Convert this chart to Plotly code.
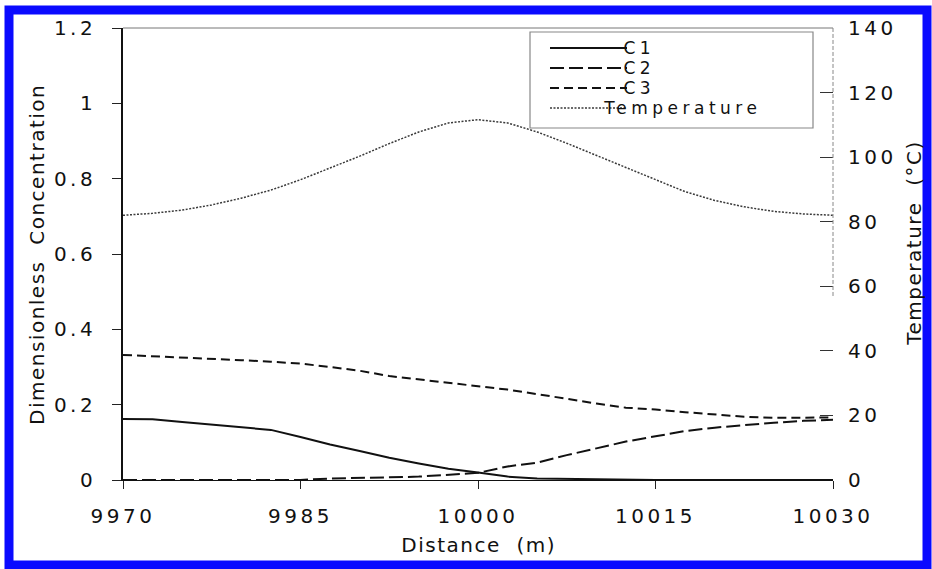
import plotly.graph_objects as go

# Profiles along the flow path
distance_m = [9970, 9972.5, 9975, 9977.5, 9980, 9982.5, 9985, 9987.5, 9990,
              9992.5, 9995, 9997.5, 10000, 10002.5, 10005, 10007.5, 10010,
              10012.5, 10015, 10017.5, 10020, 10022.5, 10025, 10027.5, 10030]

c1 = [0.162, 0.161, 0.154, 0.147, 0.141, 0.133, 0.114, 0.094, 0.077, 0.059,
      0.044, 0.030, 0.020, 0.009, 0.004, 0.003, 0.001, 0.0, 0.0, 0.0,
      0.0, 0.0, 0.0, 0.0, 0.0]
c2 = [0.0, 0.0, 0.0, 0.0, 0.0, 0.0, 0.0, 0.004, 0.005, 0.007,
      0.009, 0.013, 0.019, 0.036, 0.046, 0.066, 0.085, 0.102, 0.116, 0.130,
      0.139, 0.146, 0.152, 0.157, 0.160]
c3 = [0.332, 0.329, 0.325, 0.322, 0.318, 0.314, 0.309, 0.300, 0.290, 0.276,
      0.267, 0.258, 0.248, 0.240, 0.228, 0.215, 0.203, 0.192, 0.187, 0.180,
      0.174, 0.168, 0.165, 0.165, 0.166]
temperature_c = [82.0, 82.6, 83.6, 85.2, 87.3, 89.8, 93.0, 96.6, 100.3, 104.2,
                 107.8, 110.6, 111.6, 110.6, 107.8, 104.3, 100.5, 96.8, 93.0, 89.3,
                 86.6, 84.6, 83.2, 82.4, 82.0]

x_ticks = [9970, 9985, 10000, 10015, 10030]
conc_ticks = [0, 0.2, 0.4, 0.6, 0.8, 1.0, 1.2]
temp_ticks = [0, 20, 40, 60, 80, 100, 120, 140]

series_names = ["C1", "C2", "C3", "Temperature"]
series_dash = ["solid", "14px,5px", "9px,5px", "2px,1.5px"]
series_color = ["#111111", "#111111", "#111111", "#3a3a3a"]
series_width = [2, 2, 2, 1.5]

FONT = "DejaVu Sans"
W, H = 932, 569
ML, MR, MT, MB = 123, 99, 28, 89
PW, PH = W - ML - MR, H - MT - MB


def px_x(px):
    return (px - ML) / PW


def px_y(py):
    return (MT + PH - py) / PH


fig = go.Figure()
for name, vals, dash, col, wd, axis in zip(
        series_names, [c1, c2, c3, temperature_c], series_dash,
        series_color, series_width, ["y", "y", "y", "y2"]):
    fig.add_trace(go.Scatter(x=distance_m, y=vals, mode="lines", name=name,
                             yaxis=axis, showlegend=False,
                             line=dict(color=col, width=wd, dash=dash)))

tickfont = dict(family=FONT, size=20, color="#111111")

fig.update_layout(
    width=W, height=H, autosize=False,
    margin=dict(l=ML, r=MR, t=MT, b=MB),
    paper_bgcolor="white", plot_bgcolor="white",
    xaxis=dict(range=[9970, 10030], tickvals=x_ticks, tickformat="d",
               ticks="outside", ticklen=8,
               tickwidth=1, tickcolor="#222", showline=True, linecolor="#111",
               linewidth=1.2, showgrid=False, zeroline=False, tickfont=tickfont,
               ticklabelstandoff=10),
    xaxis3=dict(range=[9970, 10030], tickvals=x_ticks, overlaying="x", anchor="y",
                side="bottom", ticks="inside", ticklen=5, tickcolor="#222",
                showticklabels=False, showline=False, showgrid=False, zeroline=False),
    yaxis=dict(range=[0, 1.2], tickvals=conc_ticks, ticks="outside", ticklen=9,
               tickcolor="#222", showline=True, linecolor="#111", linewidth=1.6,
               showgrid=False, zeroline=False, tickfont=tickfont,
               ticklabelstandoff=12),
    yaxis3=dict(range=[0, 1.2], tickvals=conc_ticks, overlaying="y", anchor="x",
                side="left", ticks="inside", ticklen=8, tickcolor="#222",
                showticklabels=False, showline=False, showgrid=False, zeroline=False),
    yaxis2=dict(range=[0, 140], tickvals=temp_ticks, overlaying="y", anchor="x",
                side="right", ticks="inside", ticklen=13, tickcolor="#333",
                showline=False, showgrid=False, zeroline=False, tickfont=tickfont,
                ticklabelstandoff=14),
)

shapes = []
# blue frame around the figure
shapes.append(dict(type="rect", xref="paper", yref="paper",
                   x0=px_x(9), x1=px_x(927), y0=px_y(565), y1=px_y(10),
                   line=dict(color="#0a0aff", width=9), layer="below"))
# top border of the plot area
shapes.append(dict(type="line", xref="x domain", yref="y domain", x0=0, x1=1, y0=1, y1=1,
                   line=dict(color="#777777", width=1)))
# right border, drawn along the temperature axis
shapes.append(dict(type="line", xref="x domain", yref="y2", x0=1, x1=1, y0=57, y1=140,
                   line=dict(color="#888888", width=1, dash="4px,2px")))
# key box
shapes.append(dict(type="rect", xref="paper", yref="paper",
                   x0=px_x(530), x1=px_x(813), y0=px_y(128), y1=px_y(32),
                   line=dict(color="#888888", width=1.2), fillcolor="white"))

title_font = dict(family=FONT, size=20, color="#111111")
key_rows = [48, 68, 88, 108]
annotations = [
    dict(text="Dimensionless  Concentration", xref="paper", yref="paper",
         x=px_x(37), y=px_y(255), textangle=-90, showarrow=False,
         xanchor="center", yanchor="middle", font=title_font),
    dict(text="Temperature  (°C)", xref="paper", yref="paper",
         x=px_x(914), y=px_y(243), textangle=-90, showarrow=False,
         xanchor="center", yanchor="middle", font=title_font),
    dict(text="Distance  (m)", xref="paper", yref="paper",
         x=px_x(478), y=px_y(545), showarrow=False,
         xanchor="center", yanchor="middle", font=title_font),
]
for name, dash, col, wd, row in zip(series_names, series_dash, series_color,
                                    series_width, key_rows):
    shapes.append(dict(type="line", xref="paper", yref="paper",
                       x0=px_x(550), x1=px_x(627), y0=px_y(row), y1=px_y(row),
                       line=dict(color=col, width=wd, dash=dash)))
    annotations.append(dict(text=name, xref="paper", yref="paper",
                            x=px_x(626), y=px_y(row), xanchor="left",
                            yanchor="middle", showarrow=False,
                            font=dict(family=FONT, size=17, color="#111111")))

fig.update_layout(shapes=shapes, annotations=annotations)

spacing_js = """
var gd = document.getElementById('{plot_id}');
gd.querySelectorAll('.xtick text, .ytick text, .y2tick text').forEach(function(t){
  t.style.letterSpacing = '3.5px';
});
gd.querySelectorAll('g.annotation').forEach(function(g){
  var i = parseInt(g.getAttribute('data-index'));
  g.querySelectorAll('text').forEach(function(t){
    t.style.letterSpacing = (i < 3) ? '1.5px' : '4.5px';
  });
});
"""

fig.write_html("out.html", post_script=spacing_js)
